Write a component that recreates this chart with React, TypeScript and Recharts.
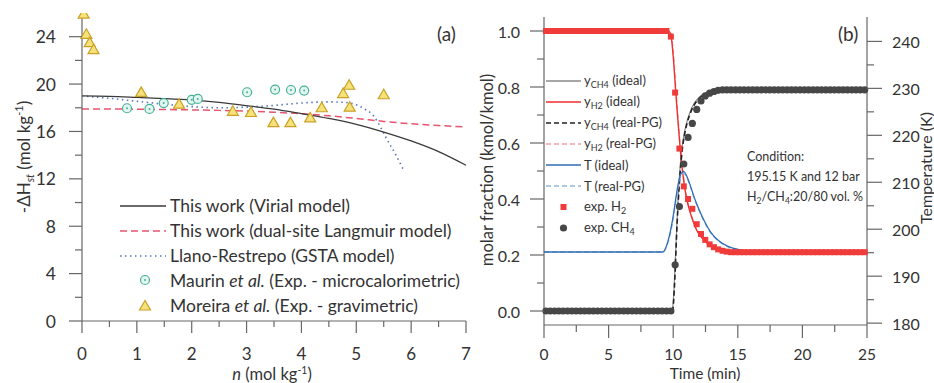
import React from 'react';
import { ComposedChart, Line, Scatter, XAxis, YAxis, Legend } from 'recharts';

const FONT = 'Lato, "Open Sans", sans-serif';
const AXIS = '#676767';
const INK = '#333';

// ---- panel (a): isosteric heat vs loading ----
const virialN = [0, 0.5, 1, 1.5, 2, 2.5, 3, 3.5, 4, 4.5, 5, 5.5, 6, 6.5, 7];
const virialH = [19.0, 18.97, 18.88, 18.78, 18.65, 18.45, 18.18, 17.88, 17.5, 17.1, 16.6, 15.95, 15.2, 14.3, 13.15];
const langN = [0, 0.5, 1, 1.5, 2, 2.5, 3, 3.5, 4, 4.5, 5, 5.5, 6, 6.5, 7];
const langH = [17.9, 17.9, 17.88, 17.85, 17.82, 17.78, 17.72, 17.62, 17.5, 17.32, 17.1, 16.85, 16.65, 16.5, 16.38];
const gstaN = [0, 0.5, 1, 1.5, 2, 2.5, 3, 3.5, 4, 4.5, 4.8, 5.0, 5.15, 5.3, 5.45, 5.55, 5.7, 5.86];
const gstaH = [19.0, 18.8, 18.55, 18.3, 18.1, 18.0, 18.05, 18.2, 18.4, 18.5, 18.45, 18.25, 17.9, 17.4, 16.3, 15.4, 14.2, 12.75];
const maurinN = [0.82, 1.23, 1.49, 2.0, 2.11, 3.01, 3.52, 3.81, 4.05];
const maurinH = [17.96, 17.9, 18.4, 18.67, 18.75, 19.31, 19.54, 19.5, 19.45];
const moreiraN = [0.03, 0.08, 0.14, 0.21, 1.08, 1.77, 2.75, 3.08, 3.49, 3.8, 4.16, 4.37, 4.76, 4.87, 4.88, 5.5];
const moreiraH = [25.9, 24.2, 23.5, 22.9, 19.3, 18.3, 17.7, 17.6, 16.75, 16.75, 17.15, 18.0, 19.2, 19.9, 18.05, 19.1];

const nTicks = [0, 0.5, 1, 1.5, 2, 2.5, 3, 3.5, 4, 4.5, 5, 5.5, 6, 6.5, 7];
const hTicks = [0, 2, 4, 6, 8, 10, 12, 14, 16, 18, 20, 22, 24];

// ---- panel (b): breakthrough curves ----
const h2IdealT = [0, 9.6, 9.8, 10.0, 10.2, 10.4, 10.6, 10.8, 11.0, 11.2, 11.5, 11.8, 12.2, 12.6, 13.0, 13.5, 14.0, 15.0, 16.0, 25];
const h2IdealY = [1.0, 1.0, 0.99, 0.91, 0.78, 0.66, 0.55, 0.47, 0.41, 0.37, 0.325, 0.29, 0.262, 0.243, 0.231, 0.221, 0.216, 0.211, 0.21, 0.21];
const h2RealY = [1.0, 1.0, 0.995, 0.93, 0.8, 0.675, 0.565, 0.48, 0.42, 0.375, 0.33, 0.295, 0.265, 0.245, 0.232, 0.222, 0.216, 0.211, 0.21, 0.21];
const ch4IdealT = [0, 9.9, 10.0, 10.2, 10.4, 10.6, 10.8, 11.0, 11.3, 11.6, 12.0, 12.5, 13.0, 14.0, 25];
const ch4IdealY = [0, 0, 0.03, 0.22, 0.42, 0.55, 0.62, 0.665, 0.71, 0.74, 0.763, 0.778, 0.785, 0.79, 0.79];
const ch4RealT = [0, 9.95, 10.1, 10.3, 10.5, 10.7, 10.9, 11.1, 11.4, 11.8, 12.3, 13.0, 14.0, 25];
const ch4RealY = [0, 0, 0.09, 0.31, 0.47, 0.575, 0.635, 0.675, 0.715, 0.748, 0.77, 0.784, 0.79, 0.79];
const tempT = [0, 9.2, 9.5, 9.8, 10.0, 10.2, 10.4, 10.6, 10.8, 11.0, 11.3, 11.6, 12.0, 12.4, 12.9, 13.5, 14.2, 15.2, 16.5, 25];
const tempIdeal = [195.15, 195.15, 196.6, 199.8, 202.8, 206.5, 209.8, 211.8, 212.3, 211.6, 209.5, 207.0, 204.2, 201.8, 199.4, 197.6, 196.4, 195.6, 195.25, 195.15];
const tempReal = [195.15, 195.15, 196.4, 199.3, 202.2, 205.8, 209.2, 211.3, 211.9, 211.3, 209.3, 206.8, 204.0, 201.6, 199.2, 197.5, 196.3, 195.55, 195.2, 195.15];

const expTime = [
  0.15, 0.48, 0.82, 1.15, 1.48, 1.82, 2.15, 2.48, 2.82, 3.15, 3.48, 3.82, 4.15, 4.48, 4.82, 5.15, 5.48, 5.82, 6.15, 6.48,
  6.82, 7.15, 7.48, 7.82, 8.15, 8.48, 8.82, 9.15, 9.48, 9.82, 10.15, 10.48, 10.82, 11.15, 11.48, 11.82, 12.15, 12.48, 12.82, 13.15,
  13.48, 13.82, 14.15, 14.48, 14.82, 15.15, 15.48, 15.82, 16.15, 16.48, 16.82, 17.15, 17.48, 17.82, 18.15, 18.48, 18.82, 19.15, 19.48, 19.82,
  20.15, 20.48, 20.82, 21.15, 21.48, 21.82, 22.15, 22.48, 22.82, 23.15, 23.48, 23.82, 24.15, 24.48, 24.82,
];
const expH2 = [
  1, 1, 1, 1, 1, 1, 1, 1, 1, 1, 1, 1, 1, 1, 1, 1, 1, 1, 1, 1,
  1, 1, 1, 1, 1, 1, 1, 1, 1, 0.98, 0.78, 0.58, 0.445, 0.4, 0.365, 0.31, 0.275, 0.254, 0.238, 0.228,
  0.22, 0.215, 0.212, 0.21, 0.21, 0.21, 0.21, 0.21, 0.21, 0.21, 0.21, 0.21, 0.21, 0.21, 0.21, 0.21, 0.21, 0.21, 0.21, 0.21,
  0.21, 0.21, 0.21, 0.21, 0.21, 0.21, 0.21, 0.21, 0.21, 0.21, 0.21, 0.21, 0.21, 0.21, 0.21,
];
const expCH4 = [
  0, 0, 0, 0, 0, 0, 0, 0, 0, 0, 0, 0, 0, 0, 0, 0, 0, 0, 0, 0,
  0, 0, 0, 0, 0, 0, 0, 0, 0, 0, 0.165, 0.373, 0.525, 0.62, 0.67, 0.72, 0.75, 0.768, 0.778, 0.784,
  0.788, 0.79, 0.79, 0.79, 0.79, 0.79, 0.79, 0.79, 0.79, 0.79, 0.79, 0.79, 0.79, 0.79, 0.79, 0.79, 0.79, 0.79, 0.79, 0.79,
  0.79, 0.79, 0.79, 0.79, 0.79, 0.79, 0.79, 0.79, 0.79, 0.79, 0.79, 0.79, 0.79, 0.79, 0.79,
];

const timeTicks = [0, 2.5, 5, 7.5, 10, 12.5, 15, 17.5, 20, 22.5, 25];
const fracTicks = [0, 0.1, 0.2, 0.3, 0.4, 0.5, 0.6, 0.7, 0.8, 0.9, 1.0];
const tempTicks = [180, 185, 190, 195, 200, 205, 210, 215, 220, 225, 230, 235, 240];

const zip = (xs: number[], ys: number[], xk: string, yk: string) =>
  xs.map((x, i) => ({ [xk]: x, [yk]: ys[i] }));

const virialData = zip(virialN, virialH, 'n', 'virial');
const langData = zip(langN, langH, 'n', 'lang');
const gstaData = zip(gstaN, gstaH, 'n', 'gsta');
const maurinData = zip(maurinN, maurinH, 'n', 'maurin');
const moreiraData = zip(moreiraN, moreiraH, 'n', 'moreira');

const h2IdealData = zip(h2IdealT, h2IdealY, 't', 'h2i');
const h2RealData = zip(h2IdealT, h2RealY, 't', 'h2r');
const ch4IdealData = zip(ch4IdealT, ch4IdealY, 't', 'ch4i');
const ch4RealData = zip(ch4RealT, ch4RealY, 't', 'ch4r');
const tIdealData = zip(tempT, tempIdeal, 't', 'ti');
const tRealData = zip(tempT, tempReal, 't', 'tr');
const expH2Data = zip(expTime, expH2, 't', 'eh2');
const expCH4Data = zip(expTime, expCH4, 't', 'ech4');

type TickOpts = {
  side: 'left' | 'right' | 'bottom';
  isMajor: (v: number) => boolean;
  fmt: (v: number) => string;
  major: number;
  minor: number;
  gap: number;
  size: number;
};

const makeTick = (o: TickOpts) => (props: any) => {
  const { x, y, payload } = props;
  const v = payload.value;
  const big = o.isMajor(v);
  const len = big ? o.major : o.minor;
  const txt = { fontFamily: FONT, fontSize: o.size, fill: INK };
  if (o.side === 'bottom') {
    return (
      <g>
        <line x1={x} y1={y} x2={x} y2={y + len} stroke={AXIS} strokeWidth={1.2} />
        {big && (
          <text x={x} y={y + o.gap} textAnchor="middle" dominantBaseline="central" {...txt}>
            {o.fmt(v)}
          </text>
        )}
      </g>
    );
  }
  const dir = o.side === 'left' ? -1 : 1;
  return (
    <g>
      <line x1={x} y1={y} x2={x + dir * len} y2={y} stroke={AXIS} strokeWidth={1.2} />
      {big && (
        <text
          x={x + dir * o.gap}
          y={y}
          textAnchor={o.side === 'left' ? 'end' : 'start'}
          dominantBaseline="central"
          {...txt}
        >
          {o.fmt(v)}
        </text>
      )}
    </g>
  );
};

const near = (v: number, step: number) => Math.abs(v / step - Math.round(v / step)) < 1e-6;

const circleShape = (p: any) => (
  <g>
    <circle cx={p.cx} cy={p.cy} r={4.5} fill="#e4f5ef" stroke="#44b298" strokeWidth={1.2} />
    <circle cx={p.cx} cy={p.cy} r={1} fill="#44b298" />
  </g>
);
const triangleShape = (p: any) => (
  <polygon
    points={`${p.cx},${p.cy - 5.5} ${p.cx - 5.5},${p.cy + 4} ${p.cx + 5.5},${p.cy + 4}`}
    fill="#f6e27a"
    stroke="#c9a127"
    strokeWidth={1.2}
  />
);
const squareShape = (p: any) => <rect x={p.cx - 3} y={p.cy - 3} width={6} height={6} fill="#f03b3b" />;
const dotShape = (p: any) => <circle cx={p.cx} cy={p.cy} r={3.6} fill="#474747" />;

const legendA = () => {
  const rows: { sample: React.ReactNode; label: React.ReactNode }[] = [
    { sample: <line x1={0} y1={12} x2={46} y2={12} stroke="#3a3a3a" strokeWidth={1.3} />, label: 'This work (Virial model)' },
    { sample: <line x1={0} y1={12} x2={46} y2={12} stroke="#e8536f" strokeWidth={1.5} strokeDasharray="7 4" />, label: 'This work (dual-site Langmuir model)' },
    { sample: <line x1={0} y1={12} x2={46} y2={12} stroke="#5577bb" strokeWidth={1.6} strokeDasharray="1.5 3.5" />, label: 'Llano-Restrepo (GSTA model)' },
    { sample: circleShape({ cx: 25, cy: 12 }), label: <>Maurin <i>et al.</i> (Exp. - microcalorimetric)</> },
    { sample: triangleShape({ cx: 25, cy: 13 }), label: <>Moreira <i>et al.</i> (Exp. - gravimetric)</> },
  ];
  return (
    <div style={{ fontFamily: FONT, fontSize: 17.5, color: INK }}>
      {rows.map((r, i) => (
        <div key={i} style={{ display: 'flex', alignItems: 'center', height: 24.8, whiteSpace: 'nowrap' }}>
          <svg width={50} height={24} style={{ flex: 'none' }}>{r.sample}</svg>
          <span>{r.label}</span>
        </div>
      ))}
    </div>
  );
};

const subStyle: React.CSSProperties = { fontSize: 9, verticalAlign: -3 };
const legendB = () => {
  const ln = (stroke: string, dash?: string, w = 1.3) => (
    <line x1={0} y1={10} x2={35} y2={10} stroke={stroke} strokeWidth={w} strokeDasharray={dash} />
  );
  const rows: { sample: React.ReactNode; label: React.ReactNode }[] = [
    { sample: ln('#8a8a8a'), label: <>y<span style={subStyle}>CH4</span> (ideal)</> },
    { sample: ln('#ee2d2d'), label: <>y<span style={subStyle}>H2</span> (ideal)</> },
    { sample: ln('#222', '5 3', 1.6), label: <>y<span style={subStyle}>CH4</span> (real-PG)</> },
    { sample: ln('#f4a0aa', '5 3'), label: <>y<span style={subStyle}>H2</span> (real-PG)</> },
    { sample: ln('#2f6db5'), label: 'T (ideal)' },
    { sample: ln('#93b8e2', '5 3'), label: 'T (real-PG)' },
    { sample: squareShape({ cx: 17.5, cy: 10 }), label: <>exp. H<span style={subStyle}>2</span></> },
    { sample: dotShape({ cx: 17.5, cy: 10 }), label: <>exp. CH<span style={subStyle}>4</span></> },
  ];
  return (
    <div style={{ fontFamily: FONT, fontSize: 13, color: INK }}>
      {rows.map((r, i) => (
        <div key={i} style={{ display: 'flex', alignItems: 'center', height: 20.9, whiteSpace: 'nowrap' }}>
          <svg width={38} height={20} style={{ flex: 'none' }}>{r.sample}</svg>
          <span>{r.label}</span>
        </div>
      ))}
    </div>
  );
};

const lineProps = { dot: false, activeDot: false, isAnimationActive: false, type: 'monotone' as const };

export default function App() {
  return (
    <div style={{ position: 'absolute', left: 0, top: 0, width: 934, height: 383, background: '#fff', overflow: 'hidden' }}>
      <div style={{ position: 'absolute', left: 0, top: 0 }}>
        <ComposedChart width={480} height={383} margin={{ top: 13, right: 14, bottom: 12, left: 22 }}>
          <XAxis
            dataKey="n"
            type="number"
            domain={[0, 7]}
            ticks={nTicks}
            interval={0}
            height={50}
            tickSize={0}
            tickMargin={0}
            tickLine={false}
            axisLine={{ stroke: AXIS, strokeWidth: 1.2 }}
            tick={makeTick({ side: 'bottom', isMajor: (v) => near(v, 1), fmt: (v) => String(v), major: 12, minor: 6, gap: 32, size: 17 })}
          />
          <XAxis xAxisId="frame" orientation="top" type="number" domain={[0, 7]} height={0} tick={false} tickLine={false} axisLine={{ stroke: AXIS, strokeWidth: 1.2 }} />
          <YAxis
            type="number"
            domain={[0, 26]}
            allowDataOverflow
            ticks={hTicks}
            interval={0}
            width={60}
            tickSize={0}
            tickMargin={0}
            tickLine={false}
            axisLine={{ stroke: AXIS, strokeWidth: 1.2 }}
            tick={makeTick({ side: 'left', isMajor: (v) => near(v, 4), fmt: (v) => String(v), major: 13, minor: 7, gap: 26, size: 17.5 })}
          />
          <YAxis yAxisId="frame" orientation="right" type="number" domain={[0, 1]} width={0} tick={false} tickLine={false} axisLine={{ stroke: AXIS, strokeWidth: 1.2 }} />
          <Line data={langData} dataKey="lang" stroke="#e8536f" strokeWidth={1.5} strokeDasharray="7 4" {...lineProps} />
          <Line data={gstaData} dataKey="gsta" stroke="#5577bb" strokeWidth={1.6} strokeDasharray="1.5 3.5" {...lineProps} />
          <Line data={virialData} dataKey="virial" stroke="#3a3a3a" strokeWidth={1.3} {...lineProps} />
          <Scatter data={maurinData} dataKey="maurin" shape={circleShape} isAnimationActive={false} />
          <Scatter data={moreiraData} dataKey="moreira" shape={triangleShape} isAnimationActive={false} />
          <Legend content={legendA} layout="vertical" align="center" verticalAlign="middle" wrapperStyle={{ left: 120, top: 193.6, width: 345 }} />
        </ComposedChart>
      </div>

      <div style={{ position: 'absolute', left: 470, top: 0 }}>
        <ComposedChart width={464} height={383} margin={{ top: 17, right: 7, bottom: 8, left: 14 }}>
          <XAxis
            dataKey="t"
            type="number"
            domain={[0, 25]}
            ticks={timeTicks}
            interval={0}
            height={50}
            tickSize={0}
            tickMargin={0}
            tickLine={false}
            axisLine={{ stroke: AXIS, strokeWidth: 1.2 }}
            tick={makeTick({ side: 'bottom', isMajor: (v) => near(v, 5), fmt: (v) => String(v), major: 13, minor: 7, gap: 29, size: 15.5 })}
          />
          <XAxis xAxisId="frame" orientation="top" type="number" domain={[0, 25]} height={0} tick={false} tickLine={false} axisLine={{ stroke: AXIS, strokeWidth: 1.2 }} />
          <YAxis
            yAxisId="f"
            type="number"
            domain={[-0.05, 1.05]}
            ticks={fracTicks}
            interval={0}
            width={60}
            tickSize={0}
            tickMargin={0}
            tickLine={false}
            axisLine={{ stroke: AXIS, strokeWidth: 1.2 }}
            tick={makeTick({ side: 'left', isMajor: (v) => near(v, 0.2), fmt: (v) => v.toFixed(1), major: 14, minor: 7, gap: 24, size: 16 })}
          />
          <YAxis
            yAxisId="T"
            orientation="right"
            type="number"
            domain={[179.6, 245.2]}
            ticks={tempTicks}
            interval={0}
            width={60}
            tickSize={0}
            tickMargin={0}
            tickLine={false}
            axisLine={{ stroke: AXIS, strokeWidth: 1.2 }}
            tick={makeTick({ side: 'right', isMajor: (v) => near(v, 10), fmt: (v) => String(v), major: 15, minor: 7, gap: 25, size: 16 })}
          />
          <Scatter yAxisId="f" data={expH2Data} dataKey="eh2" shape={squareShape} isAnimationActive={false} />
          <Line yAxisId="f" data={ch4IdealData} dataKey="ch4i" stroke="#8a8a8a" strokeWidth={1.2} {...lineProps} />
          <Line yAxisId="f" data={h2RealData} dataKey="h2r" stroke="#f4a0aa" strokeWidth={1.3} strokeDasharray="5 3" {...lineProps} />
          <Line yAxisId="f" data={h2IdealData} dataKey="h2i" stroke="#ee2d2d" strokeWidth={1.4} {...lineProps} />
          <Line yAxisId="f" data={ch4RealData} dataKey="ch4r" stroke="#222" strokeWidth={1.6} strokeDasharray="5 3" {...lineProps} />
          <Scatter yAxisId="f" data={expCH4Data} dataKey="ech4" shape={dotShape} isAnimationActive={false} />
          <Line yAxisId="T" data={tRealData} dataKey="tr" stroke="#93b8e2" strokeWidth={1.3} strokeDasharray="5 3" {...lineProps} />
          <Line yAxisId="T" data={tIdealData} dataKey="ti" stroke="#2f6db5" strokeWidth={1.3} {...lineProps} />
          <Legend content={legendB} layout="vertical" align="center" verticalAlign="middle" wrapperStyle={{ left: 76, top: 71, width: 170 }} />
        </ComposedChart>
      </div>

      <svg width={934} height={383} style={{ position: 'absolute', left: 0, top: 0, pointerEvents: 'none' }} fontFamily={FONT} fill={INK}>
        <text x={437} y={33} fontSize={19} dominantBaseline="central">(a)</text>
        <text x={838} y={33} fontSize={19} dominantBaseline="central">(b)</text>
        <text transform="translate(24,157) rotate(-90)" textAnchor="middle" fontSize={17} dy={6}>
          -ΔH<tspan fontSize={11} dy={4} fontStyle="italic">st</tspan>
          <tspan dy={-4}> (mol kg</tspan>
          <tspan fontSize={11} dy={-7}>-1</tspan>
          <tspan dy={7}>)</tspan>
        </text>
        <text x={272} y={380} textAnchor="middle" fontSize={16.5}>
          <tspan fontStyle="italic">n</tspan> (mol kg<tspan fontSize={10.5} dy={-6}>-1</tspan>
          <tspan dy={6}>)</tspan>
        </text>
        <text transform="translate(487,170) rotate(-90)" textAnchor="middle" dominantBaseline="central" fontSize={16.5}>
          molar fraction (kmol/kmol)
        </text>
        <text transform="translate(925,168) rotate(-90)" textAnchor="middle" dominantBaseline="central" fontSize={16}>
          Temperature (K)
        </text>
        <text x={705} y={379} textAnchor="middle" fontSize={15.5}>Time (min)</text>
        <g fontSize={12.5}>
          <text x={747} y={161}>Condition:</text>
          <text x={747} y={181}>195.15 K and 12 bar</text>
          <text x={747} y={201}>
            H<tspan fontSize={8.5} dy={3}>2</tspan>
            <tspan dy={-3}>/CH</tspan>
            <tspan fontSize={8.5} dy={3}>4</tspan>
            <tspan dy={-3}>:20/80 vol. %</tspan>
          </text>
        </g>
      </svg>
    </div>
  );
}
